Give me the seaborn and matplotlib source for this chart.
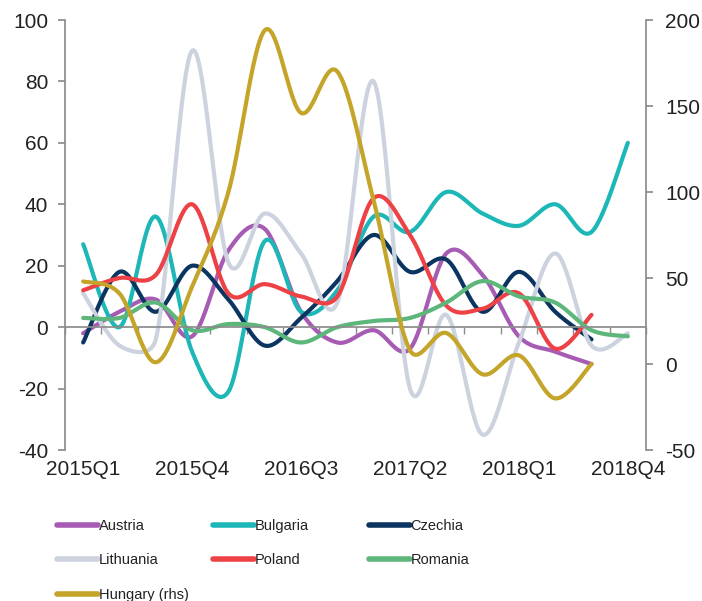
import numpy as np
import pandas as pd
import matplotlib
matplotlib.use("Agg")
import matplotlib.pyplot as plt
from matplotlib.lines import Line2D
import seaborn as sns

sns.set_theme(style="white")
plt.rcParams['font.family'] = ['Liberation Sans', 'DejaVu Sans']
plt.rcParams['axes.unicode_minus'] = False

nan = np.nan

# --- data (quarterly) ---
quarters = [f"{y}Q{q}" for y in range(2015, 2019) for q in range(1, 5)]
tick_labels = ["2015Q1", "2015Q4", "2016Q3", "2017Q2", "2018Q1", "2018Q4"]

austria = [-2, 5, 9, -3, 25, 32, 5, -5, -1, -7, 24, 17, -3, -8, -12, nan]
bulgaria = [27, 0, 36, -8, -21, 28, 5, 12, 36, 31, 44, 37, 33, 40, 31, 60]
czechia = [-5, 18, 5, 20, 9, -6, 3, 15, 30, 18, 22, 5, 18, 5, -4, nan]
lithuania = [11, -6, -4, 90, 21, 37, 24, 8, 80, -20, 4, -35, -5, 24, -6, -2]
poland = [12, 16, 17, 40, 11, 14, 10, 10, 42, 30, 7, 6, 11, -7, 4, nan]
romania = [3, 3, 8, -1, 1, 0, -5, 0, 2, 3, 8, 15, 10, 8, -1, -3]
hungary = [48, 41, 1, 45, 100, 194, 146, 170, 95, 8, 18, -6, 5, -20, 0, nan]

left_series = {
    "Austria": austria,
    "Bulgaria": bulgaria,
    "Czechia": czechia,
    "Lithuania": lithuania,
    "Poland": poland,
    "Romania": romania,
}

colors = {
    "Austria": "#A75CB3",
    "Bulgaria": "#1DB7B8",
    "Czechia": "#0B3560",
    "Lithuania": "#CDD2DF",
    "Poland": "#EE4146",
    "Romania": "#5DB67A",
    "Hungary (rhs)": "#C4A52A",
}

# pixels per quarter / per y unit on the canvas (used for smoothing only)
px_per_q = 581 / 16
px_left = 430 / 140
px_right = 430 / 250


def smooth(values, ypx, n=30):
    # Excel-style smoothed line: Catmull-Rom Bezier arms (1/6) capped
    # at half the on-screen segment length
    y = np.asarray(values, float)
    x = np.arange(len(y), dtype=float)
    ok = ~np.isnan(y)
    x, y = x[ok], y[ok]
    px = np.concatenate([[x[0]], x, [x[-1]]])
    py = np.concatenate([[y[0]], y, [y[-1]]])
    pts_all = np.column_stack([px, py])
    scr = np.column_stack([px * px_per_q, py * ypx])
    t = np.linspace(0, 1, n)[:, None]
    xs, ys = [], []
    for i in range(1, len(px) - 2):
        P = pts_all[i - 1:i + 3]
        S = scr[i - 1:i + 3]
        d12 = np.hypot(*(S[2] - S[1]))
        d02 = np.hypot(*(S[2] - S[0]))
        d13 = np.hypot(*(S[3] - S[1]))
        f1 = 1 / 6 if d02 / 6 < d12 / 2 else d12 / (2 * d02)
        f2 = 1 / 6 if d13 / 6 < d12 / 2 else d12 / (2 * d13)
        b0 = P[1]
        b1 = P[1] + (P[2] - P[0]) * f1
        b2 = P[2] - (P[3] - P[1]) * f2
        b3 = P[2]
        pts = ((1 - t) ** 3 * b0 + 3 * (1 - t) ** 2 * t * b1
               + 3 * (1 - t) * t ** 2 * b2 + t ** 3 * b3)
        xs.append(pts[:, 0])
        ys.append(pts[:, 1])
    return np.concatenate(xs), np.concatenate(ys)


rows = []
for name, vals in left_series.items():
    sx, sy = smooth(vals, px_left)
    rows.append(pd.DataFrame({"x": sx, "value": sy, "country": name}))
df_left = pd.concat(rows, ignore_index=True)

hx, hy = smooth(hungary, px_right)
df_hu = pd.DataFrame({"x": hx, "value": hy, "country": "Hungary (rhs)"})

fig = plt.figure(figsize=(7.02, 6.01), dpi=100)
ax = fig.add_axes([65 / 702, 1 - 450 / 601, (646 - 65) / 702, 430 / 601])

axis_grey = "#8C8C8C"
text_col = "#222222"

sns.lineplot(data=df_left, x="x", y="value", hue="country", palette=colors,
             linewidth=3, sort=False, estimator=None, legend=False, ax=ax)

ax2 = ax.twinx()
sns.lineplot(data=df_hu, x="x", y="value", color=colors["Hungary (rhs)"],
             linewidth=3, sort=False, estimator=None, legend=False, ax=ax2)

# left axis
ax.set_xlim(-0.5, len(quarters) - 0.5)
ax.set_ylim(-40, 100)
ax.set_yticks(range(-40, 101, 20))
ax.set_xlabel("")
ax.set_ylabel("")
for s in ["top", "right"]:
    ax.spines[s].set_visible(False)
ax.spines["left"].set_color(axis_grey)
ax.spines["bottom"].set_color(axis_grey)
ax.spines["bottom"].set_position(("data", 0))
ax.set_xticks(np.arange(-0.5, len(quarters), 1))
ax.set_xticklabels([])
ax.tick_params(axis="x", bottom=True, direction="out", length=5, color=axis_grey, width=1)
ax.tick_params(axis="y", left=True, direction="out", length=5, color=axis_grey,
               labelsize=15, labelcolor=text_col, pad=7)

# right axis
ax2.set_ylim(-50, 200)
ax2.set_yticks(range(-50, 201, 50))
ax2.set_ylabel("")
for s in ["top", "left", "bottom"]:
    ax2.spines[s].set_visible(False)
ax2.spines["right"].set_color(axis_grey)
ax2.tick_params(axis="y", right=True, direction="out", length=5, color=axis_grey,
                labelsize=15, labelcolor=text_col, pad=9)
ax2.grid(False)
ax.grid(False)

# quarter labels along the bottom
sec = ax.secondary_xaxis("bottom")
sec.set_xticks(range(0, len(quarters), 3))
sec.set_xticklabels(tick_labels)
sec.spines["bottom"].set_visible(False)
sec.tick_params(axis="x", length=0, labelsize=15, labelcolor=text_col, pad=7)

# legend in three columns below the chart
legend_cols = [["Austria", "Lithuania", "Hungary (rhs)"],
               ["Bulgaria", "Poland"],
               ["Czechia", "Romania"]]
col_x = [57, 213, 369]
for names, x0 in zip(legend_cols, col_x):
    handles = [Line2D([], [], color=colors[n], lw=4) for n in names]
    fig.legend(handles, names, loc="upper left", bbox_to_anchor=(x0 / 702, 1 - 519 / 601),
               frameon=False, handlelength=2.8, handletextpad=0.05,
               labelspacing=1.4, borderpad=0, borderaxespad=0,
               labelcolor=text_col, prop={"family": "Liberation Sans", "size": 10.5})

fig.savefig("out.png", dpi=100, facecolor="white")
